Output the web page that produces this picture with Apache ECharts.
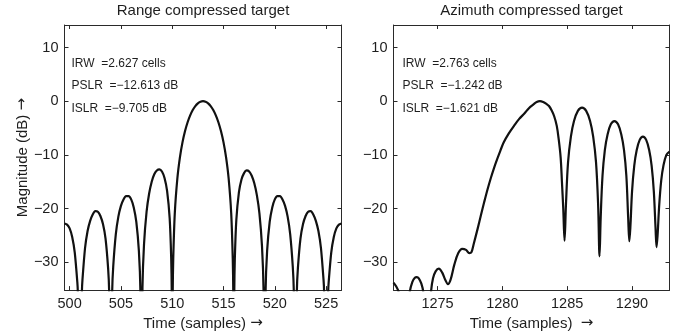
<!DOCTYPE html>
<html>
<head>
<meta charset="utf-8">
<script src="https://cdn.jsdelivr.net/npm/echarts@6/dist/echarts.min.js"></script>
<style>
html,body{margin:0;padding:0;background:#fff;}
#chart{width:688px;height:336px;}
</style>
</head>
<body>
<div id="chart"></div>
<script>
// ---- Data ----
const panelTitles = ['Range compressed target', 'Azimuth compressed target'];
const xAxisName = ['Time (samples)', 'Time (samples) '];
const yAxisName = 'Magnitude (dB)';
const arrow = '\u2192';
const rangeMetrics = ['IRW  =2.627 cells', 'PSLR  =\u221212.613 dB', 'ISLR  =\u22129.705 dB'];
const azimuthMetrics = ['IRW  =2.763 cells', 'PSLR  =\u22121.242 dB', 'ISLR  =\u22121.621 dB'];

const rangeTime = [
  499.5, 499.75, 500, 500.25, 500.5, 500.75, 500.8, 501, 501.2, 501.25, 501.5, 501.75,
  502, 502.25, 502.5, 502.75, 503, 503.25, 503.5, 503.75, 503.85, 504, 504.15, 504.25,
  504.5, 504.75, 505, 505.25, 505.5, 505.75, 506, 506.25, 506.5, 506.75, 506.9, 507,
  507.1, 507.25, 507.5, 507.75, 508, 508.25, 508.5, 508.75, 509, 509.25, 509.5, 509.75,
  509.9, 509.95, 510, 510.05, 510.1, 510.25, 510.5, 510.75, 511, 511.25, 511.5, 511.75,
  512, 512.25, 512.5, 512.75, 513, 513.25, 513.5, 513.75, 514, 514.25, 514.5, 514.75,
  515, 515.25, 515.5, 515.75, 515.9, 515.95, 516, 516.05, 516.1, 516.25, 516.5, 516.75,
  517, 517.25, 517.5, 517.75, 518, 518.25, 518.5, 518.75, 518.9, 519, 519.1, 519.25,
  519.5, 519.75, 520, 520.25, 520.5, 520.75, 521, 521.25, 521.5, 521.75, 521.85, 522,
  522.15, 522.25, 522.5, 522.75, 523, 523.25, 523.5, 523.75, 524, 524.25, 524.5, 524.75,
  524.8, 525, 525.2, 525.25, 525.5, 525.75, 526, 526.25, 526.5
];
const rangeMag = [
  -22.8, -23.0, -23.7, -25.3, -28.2, -33.7, -35.6, -60, -35.3, -33.3, -27.4, -24.2,
  -22.3, -21.1, -20.5, -20.6, -21.4, -22.9, -25.6, -31.1, -35.3, -60, -35.3, -30.8,
  -24.8, -21.5, -19.5, -18.3, -17.7, -17.7, -18.3, -19.8, -22.5, -27.9, -35.5, -60,
  -34.8, -26.7, -20.6, -17.2, -15.0, -13.6, -12.9, -12.7, -13.1, -14.3, -16.7, -21.8,
  -29.2, -35.1, -60, -35.4, -29.3, -20.9, -14.4, -10.45, -7.67, -5.56, -3.92, -2.64,
  -1.65, -0.91, -0.40, -0.10, 0, -0.10, -0.40, -0.91, -1.65, -2.64, -3.92, -5.56,
  -7.67, -10.45, -14.4, -20.9, -29.3, -35.4, -60, -35.4, -29.5, -22.1, -17.0, -14.6,
  -13.4, -12.9, -13.1, -13.9, -15.3, -17.5, -20.9, -27.0, -35.1, -60, -35.5, -27.9,
  -22.5, -19.8, -18.3, -17.7, -17.7, -18.3, -19.5, -21.5, -24.8, -30.8, -35.3, -60,
  -35.3, -31.1, -25.6, -22.9, -21.4, -20.6, -20.5, -21.1, -22.3, -24.2, -27.4, -33.3,
  -35.3, -60, -35.6, -33.7, -28.2, -25.3, -23.7, -23.0, -22.8
];

const azimuthTime = [
  1271.6, 1271.8, 1272.0, 1272.4, 1272.85, 1273.05, 1273.25, 1273.4, 1273.55, 1273.75,
  1273.9, 1274.2, 1274.5, 1274.65, 1274.85, 1275.1, 1275.35, 1275.6, 1275.8, 1276.0,
  1276.3, 1276.6, 1276.9, 1277.2, 1277.45, 1277.6, 1277.8, 1278.1, 1278.35, 1278.6,
  1278.85, 1279.1, 1279.35, 1279.6, 1279.85, 1280.1, 1280.5, 1280.9, 1281.3, 1281.7,
  1282.05, 1282.4, 1282.65, 1282.9, 1283.15, 1283.4, 1283.6, 1283.8, 1284.0, 1284.2,
  1284.35, 1284.5, 1284.6, 1284.7, 1284.8, 1284.91, 1285.07, 1285.29, 1285.53, 1285.83,
  1286.15, 1286.47, 1286.77, 1287.01, 1287.23, 1287.39, 1287.5, 1287.59, 1287.73, 1287.91,
  1288.12, 1288.37, 1288.65, 1288.93, 1289.18, 1289.39, 1289.57, 1289.71, 1289.8, 1289.88,
  1290.01, 1290.18, 1290.37, 1290.6, 1290.85, 1291.1, 1291.33, 1291.52, 1291.69, 1291.82,
  1291.9, 1291.98, 1292.1, 1292.26, 1292.44, 1292.66, 1292.9
];
const azimuthMag = [
  -33.8, -34.5, -35.6, -45, -35.6, -33.7, -32.9, -32.8, -33.0, -34.0,
  -35.6, -45, -35.4, -33.0, -31.7, -31.2, -31.9, -33.3, -34.1, -33.3,
  -30.4, -28.3, -27.5, -27.7, -28.3, -28.2, -26.5, -23.7, -21.2, -18.8,
  -16.5, -14.4, -12.5, -10.8, -9.2, -7.7, -6.0, -4.6, -3.3, -2.3,
  -1.3, -0.6, -0.15, 0, -0.15, -0.5, -0.9, -1.7, -2.8, -4.6,
  -7.1, -10.5, -15.1, -20.0, -26.0, -19.2, -11.4, -6.6, -3.7, -1.8,
  -1.2, -1.8, -3.7, -6.6, -11.4, -19.2, -28.9, -21.7, -13.9, -9.1,
  -6.2, -4.3, -3.7, -4.3, -6.2, -9.1, -13.9, -21.7, -26.1, -23.5,
  -16.8, -12.0, -9.1, -7.2, -6.6, -7.2, -9.1, -12.0, -16.8, -23.5,
  -27.2, -25.0, -19.6, -14.8, -11.9, -10.0, -9.4
];

// ---- Chart ----
const FONT = '"Liberation Sans", Arial, Helvetica, sans-serif';
const ARROW_FONT = '"DejaVu Sans", sans-serif';
const INK = '#1e1e1e';
const FRAME = '#2a2a2a';
const grids = [
  {left: 64.5, top: 25, width: 277, height: 267},
  {left: 393.5, top: 25, width: 276, height: 267}
];
const xRanges = [[499.5, 526.5], [1271.6, 1292.9]];
const yRange = [-35.2, 14.2];

const minus = v => String(v).replace('-', '\u2212');
const nameRich = {
  t: {fontFamily: FONT, fontSize: 15, color: INK},
  a: {fontFamily: ARROW_FONT, fontSize: 15, color: INK}
};

function xAx(i, pos) {
  const main = pos === 'bottom';
  return {
    type: 'value', gridIndex: i, position: pos,
    min: xRanges[i][0], max: xRanges[i][1], minInterval: 5, maxInterval: 5,
    name: main ? '{t|' + xAxisName[i] + ' }{a|' + arrow + '}' : '',
    nameLocation: 'middle', nameGap: 23,
    nameTextStyle: {fontFamily: FONT, fontSize: 15, color: INK, rich: nameRich},
    axisLine: {show: true, onZero: false, lineStyle: {color: FRAME, width: 1}},
    axisTick: {show: true, inside: true, length: 4, lineStyle: {color: FRAME}},
    axisLabel: {show: main, margin: 6, fontFamily: FONT, fontSize: 14.5, color: INK,
      showMinLabel: false, showMaxLabel: false, formatter: minus},
    splitLine: {show: false}
  };
}
function yAx(i, pos) {
  const main = pos === 'left' && i === 0;
  return {
    type: 'value', gridIndex: i, position: pos,
    min: yRange[0], max: yRange[1], minInterval: 10, maxInterval: 10,
    name: main ? '{t|' + yAxisName + ' }{a|' + arrow + '}' : '',
    nameLocation: 'middle', nameGap: 34,
    nameTextStyle: {fontFamily: FONT, fontSize: 15, color: INK, rich: nameRich},
    axisLine: {show: true, onZero: false, lineStyle: {color: FRAME, width: 1}},
    axisTick: {show: true, inside: true, length: 4, lineStyle: {color: FRAME}},
    axisLabel: {show: pos === 'left', margin: 6, fontFamily: FONT, fontSize: 14.5, color: INK,
      showMinLabel: false, showMaxLabel: false, formatter: minus},
    splitLine: {show: false}
  };
}

const zip = (xs, ys) => xs.map((x, k) => [x, ys[k]]);

const graphics = [];
[rangeMetrics, azimuthMetrics].forEach((lines, i) => {
  graphics.push({
    type: 'text', x: grids[i].left + grids[i].width / 2, y: 10.5,
    style: {text: panelTitles[i], font: '15px ' + FONT, fill: INK, align: 'center', verticalAlign: 'middle'}
  });
  lines.forEach((t, k) => {
    graphics.push({
      type: 'text', x: grids[i].left + (i === 0 ? 7 : 9), y: 63.3 + k * 22.5,
      style: {text: t, font: '12px ' + FONT, fill: INK, align: 'left', verticalAlign: 'middle'}
    });
  });
});

const chart = echarts.init(document.getElementById('chart'), null, {renderer: 'canvas'});
chart.setOption({
  animation: false,
  backgroundColor: '#fff',
  grid: grids,
  xAxis: [xAx(0, 'bottom'), xAx(0, 'top'), xAx(1, 'bottom'), xAx(1, 'top')],
  yAxis: [yAx(0, 'left'), yAx(0, 'right'), yAx(1, 'left'), yAx(1, 'right')],
  series: [
    {type: 'line', xAxisIndex: 0, yAxisIndex: 0, data: zip(rangeTime, rangeMag),
     showSymbol: false, clip: true, smooth: 0.25,
     lineStyle: {color: '#111', width: 2.2, join: 'round'}},
    {type: 'line', xAxisIndex: 2, yAxisIndex: 2, data: zip(azimuthTime, azimuthMag),
     showSymbol: false, clip: true, smooth: 0.35,
     lineStyle: {color: '#111', width: 2.2, join: 'round'}}
  ],
  graphic: graphics
});
</script>
</body>
</html>
